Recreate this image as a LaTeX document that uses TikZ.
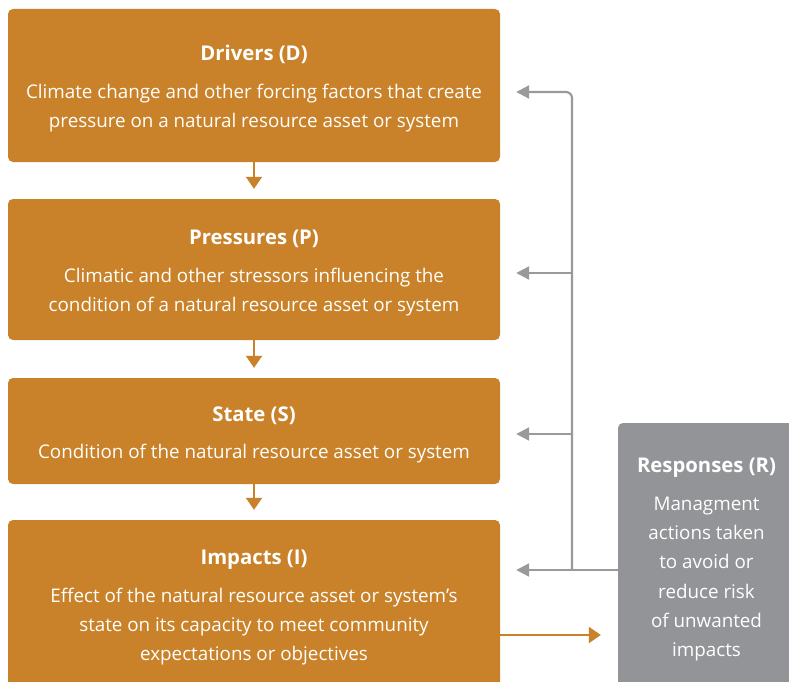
\documentclass[tikz,border=0pt]{standalone}
\usepackage{fontspec}
\setmainfont{Open Sans}
\usetikzlibrary{arrows.meta,calc}
\usetikzlibrary{positioning}
\definecolor{ochre}{HTML}{C98229}
\definecolor{slate}{HTML}{939497}
\definecolor{wire}{HTML}{9A9A9C}
\tikzset{
    stage/.style={
           rectangle,
           rounded corners=5pt,
           fill=ochre,
           text=white,
           minimum width=492pt,
           align=center,
           font=\fontsize{18.8}{29.3}\selectfont,
           },
    reply/.style={
           rectangle,
           rounded corners=5pt,
           fill=slate,
           text=white,
           minimum width=177pt,
           minimum height=266pt,
           align=center,
           font=\fontsize{18.8}{29.3}\selectfont,
           },
    down/.style={
           -{Triangle[width=16pt,length=12pt]},
           draw=ochre,
           line width=2pt,
           shorten >=10pt,
           },
    back/.style={
           -{Triangle[width=13pt,length=13pt]},
           draw=wire,
           line width=2.2pt,
           },
}
\newcommand{\lift}{\rule{0pt}{22pt}}
\newcommand{\head}[1]{\lift{\fontsize{20.3}{29.3}\selectfont\bfseries #1}}
\begin{document}
\begin{tikzpicture}[x=1pt,y=-1pt]
\clip (0,0) rectangle (789,682);
\fill[white] (0,0) rectangle (789,682);
\node[stage, minimum height=153pt] (drv) at (254,85.5) {\head{Drivers (D)}\\[8pt]Climate change and other forcing factors that create\\pressure on a natural resource asset or system};
\node[stage, minimum height=141pt] (prs) at (254,269.5) {\head{Pressures (P)}\\[8pt]Climatic and other stressors influencing the\\condition of a natural resource asset or system};
\node[stage, minimum height=106pt] (sta) at (254,431) {\head{State (S)}\\[8pt]Condition of the natural resource asset or system};
\node[stage, minimum height=168pt] (imp) at (254,604) {\head{Impacts (I)}\\[8pt]Effect of the natural resource asset or system’s\\state on its capacity to meet community\\expectations or objectives};
\node[reply] (rsp) at (706.5,556) {\head{Responses (R)}\\[8pt]Managment\\actions taken\\to avoid or\\reduce risk\\of unwanted\\impacts};
% feedback line
\coordinate (top) at (572,92);
\coordinate (jn) at (572,570);
\draw[wire, line width=2.2pt] (rsp.west |- jn) -- (jn);
\draw[back, rounded corners=6pt] (jn) -- (top) -- ([xshift=16pt]drv.east |- top);
\draw[back] (572,273) -- ([xshift=16pt]prs.east |- 0,273);
\draw[back] (572,434) -- ([xshift=16pt]sta.east |- 0,434);
\draw[back] (jn) -- ([xshift=16pt]imp.east |- jn);
% forward arrows
\path (drv) edge[down] (prs);
\path (prs) edge[down] (sta);
\path (sta) edge[down] (imp);
\draw[down, shorten >=17pt] (imp.east |- 0,635) -- (rsp.west |- 0,635);
\end{tikzpicture}
\end{document}
